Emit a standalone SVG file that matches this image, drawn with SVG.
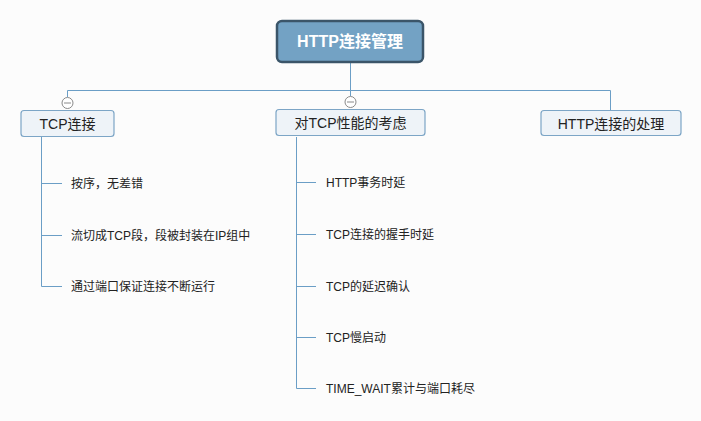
<svg xmlns="http://www.w3.org/2000/svg" width="701" height="421" viewBox="0 0 701 421">
<style>
.bg{fill:#fcfcfc}
.ln{stroke:#6b9ec6;stroke-width:1;fill:none}
.node{fill:#eef3f8;stroke:#7ca5c6;stroke-width:1.2}
.lbl{font-family:"Liberation Sans","Noto Sans CJK SC",sans-serif;font-size:14px;fill:#222;text-anchor:middle}
.leaf{font-family:"Liberation Sans","Noto Sans CJK SC",sans-serif;font-size:12px;fill:#222}
.col{fill:#fff;stroke:#8a8a8a;stroke-width:1}
.minus{stroke:#8a8a8a;stroke-width:1}
</style>
<rect class="bg" x="0" y="0" width="701" height="421"/>
<g id="connectors">
<path class="ln" d="M350.5 62 V90.5 M67.5 90.5 H610.5 M67.5 90.5 V97 M350.5 90.5 V96 M610.5 90.5 V110"/>
<path class="ln" d="M41.5 137 V286.5 M41.5 183.5 H62 M41.5 235.5 H62 M41.5 286.5 H62"/>
<path class="ln" d="M296.5 137 V388.5 M296.5 182.5 H316 M296.5 234.5 H316 M296.5 286.5 H316 M296.5 337.5 H316 M296.5 388.5 H316"/>
</g>
<g id="root">
<rect x="277" y="21" width="146" height="41" rx="5" fill="#73a2c4" stroke="#3b5569" stroke-width="2.5"/>
<text x="350" y="47" font-family="Liberation Sans,'Noto Sans CJK SC',sans-serif" font-size="16" font-weight="bold" fill="#fff" text-anchor="middle">HTTP连接管理</text>
</g>
<g id="n-tcp">
<rect class="node" x="21" y="110.5" width="93" height="26" rx="3"/>
<text class="lbl" x="67.5" y="128.5">TCP连接</text>
<circle class="col" cx="67.5" cy="103" r="5.5"/>
<line class="minus" x1="64" y1="103" x2="71" y2="103"/>
</g>
<g id="n-perf">
<rect class="node" x="276" y="109.5" width="149" height="26" rx="3"/>
<text class="lbl" x="350.5" y="127.5">对TCP性能的考虑</text>
<circle class="col" cx="350.5" cy="102" r="5.5"/>
<line class="minus" x1="347" y1="102" x2="354" y2="102"/>
</g>
<g id="n-handle">
<rect class="node" x="541" y="110.5" width="140" height="25" rx="3"/>
<text class="lbl" x="611" y="128.5">HTTP连接的处理</text>
</g>
<g id="leaf1"><text class="leaf" x="71" y="187.5">按序，无差错</text></g>
<g id="leaf2"><text class="leaf" x="71" y="239.5">流切成TCP段，段被封装在IP组中</text></g>
<g id="leaf3"><text class="leaf" x="71" y="290.5">通过端口保证连接不断运行</text></g>
<g id="leaf4"><text class="leaf" x="326" y="186.5">HTTP事务时延</text></g>
<g id="leaf5"><text class="leaf" x="326" y="238.5">TCP连接的握手时延</text></g>
<g id="leaf6"><text class="leaf" x="326" y="290.5">TCP的延迟确认</text></g>
<g id="leaf7"><text class="leaf" x="326" y="341.5">TCP慢启动</text></g>
<g id="leaf8"><text class="leaf" x="326" y="392.5">TIME_WAIT累计与端口耗尽</text></g>
</svg>
